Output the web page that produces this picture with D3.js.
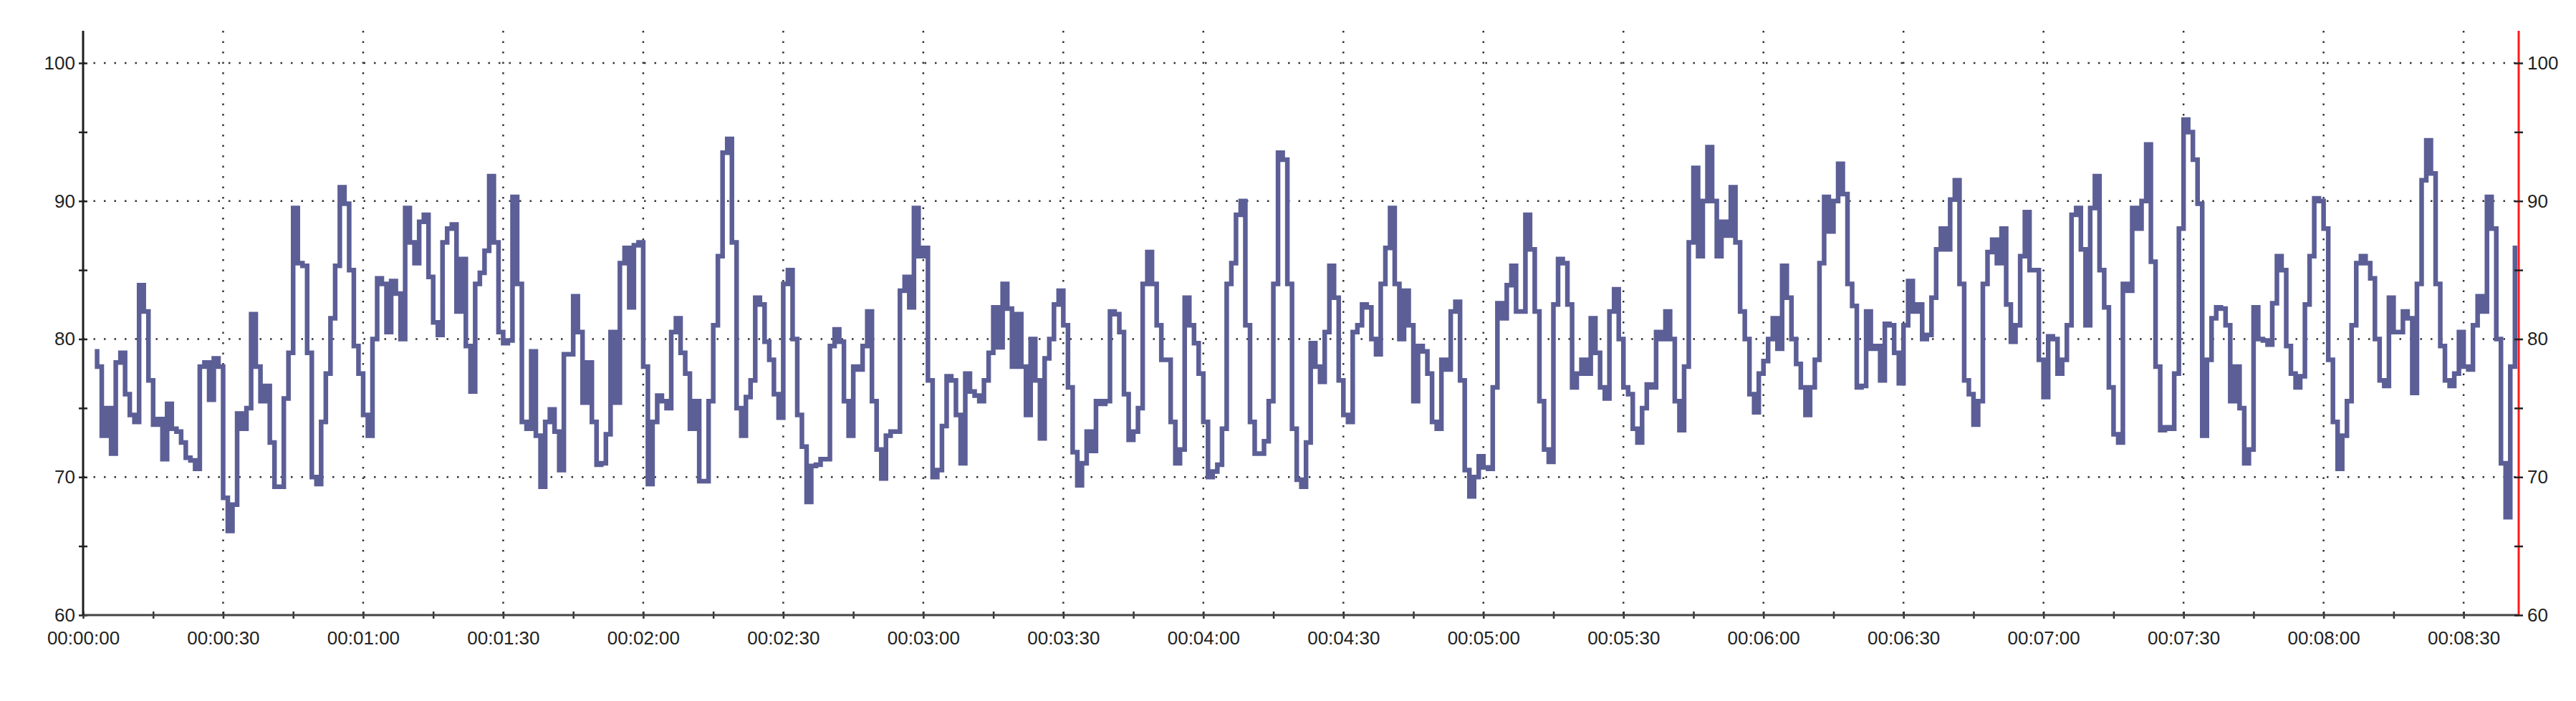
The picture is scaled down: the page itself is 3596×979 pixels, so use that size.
<!DOCTYPE html>
<html lang="en">

<head>
    <meta charset="utf-8">
    <script src="https://d3js.org/d3.v7.min.js"></script>
    <style>
        body { margin: 0; background: #fff; }
        svg { display: block; }
        .tick text { font-family: "Liberation Sans", Arial, sans-serif; font-size: 26px; fill: #222; }
    </style>
</head>

<body>
    <script>
        // one sample per second, first sample at 2 s
        const startSec = 2;
        const sampleStep = 1;
        const samples = [
            79.1, 78, 73, 75, 71.7, 78.3, 79, 76, 74.5, 74,
            83.9, 82, 77, 73.8, 74.2, 71.3, 75.3, 73.5, 73.3, 72.5,
            71.4, 71.2, 70.6, 78, 78.3, 75.6, 78.6, 78, 68.5, 66.1,
            68, 74.6, 73.5, 75, 81.8, 78, 75.5, 76.6, 72.5, 69.3,
            69.3, 75.7, 79, 89.5, 85.5, 85.3, 79, 70, 69.5, 74,
            77.5, 81.5, 85.3, 91, 89.8, 85, 79.5, 77.5, 74.5, 73,
            80, 84.4, 84, 80.5, 84.2, 83.3, 80, 89.5, 87, 85.5,
            88.5, 89, 84.5, 81.2, 80.3, 87, 88, 88.3, 82, 85.8,
            79.5, 76.2, 84, 84.8, 86.4, 91.8, 87, 80.5, 79.7, 79.9,
            90.3, 84, 74, 73.5, 79.1, 73, 69.3, 74, 74.9, 73.3,
            70.5, 78.9, 78.9, 83.1, 80.5, 75.4, 78.3, 74, 70.9, 71,
            73.1, 80.5, 75.4, 85.5, 86.6, 82.3, 86.8, 87, 78, 69.5,
            74, 75.9, 75.5, 75, 80.5, 81.5, 79, 77.5, 73.5, 75.5,
            69.7, 69.7, 75.5, 81, 86, 93.5, 94.5, 87, 75, 73,
            75.8, 77, 83, 82.5, 79.8, 78.5, 76, 74.3, 84, 85,
            80, 74.5, 72.2, 68.2, 70.8, 70.9, 71.3, 71.3, 79.5, 80.7,
            79.8, 75.5, 73, 78, 77.8, 79.5, 82, 75.5, 72, 69.9,
            73, 73.3, 73.3, 83.5, 84.5, 82.3, 89.5, 86, 86.6, 77,
            70, 70.5, 73.7, 77.3, 77, 74.5, 71, 77.5, 76.2, 75.9,
            75.5, 77, 79, 82.3, 79.4, 84, 82.2, 78, 81.8, 78,
            74.5, 80, 77, 72.8, 78.6, 80, 82.5, 83.5, 81, 76.5,
            71.8, 69.4, 71, 73.3, 71.9, 75.5, 75.3, 75.5, 82, 81.8,
            80.5, 76, 72.7, 73.3, 75, 84, 86.3, 84, 81, 78.5,
            78.5, 74, 71, 72, 83, 81, 79.7, 77.5, 74, 70,
            70.4, 70.9, 73.5, 84, 85.5, 89, 90, 81, 74, 71.7,
            71.7, 72.6, 75.5, 84, 93.5, 93, 84, 73.5, 69.8, 69.3,
            72.5, 79.7, 78, 76.9, 80.5, 85.3, 83, 77, 74.5, 74,
            80.5, 81, 82.5, 82.3, 80, 78.9, 84, 86.6, 89.5, 84,
            80, 83.5, 81, 75.5, 79.5, 79.1, 77.5, 74, 73.5, 78.5,
            77.8, 82, 82.7, 77, 70.5, 68.6, 70, 71.5, 70.7, 70.6,
            76.5, 82.6, 81.5, 83.9, 85.3, 82, 82, 89, 86.5, 82,
            75.5, 72, 71.1, 82.5, 85.8, 85.5, 82.5, 76.5, 77.5, 78.5,
            77.5, 81.5, 79, 76.5, 75.7, 82, 83.6, 80, 76.5, 76,
            73.5, 72.5, 75, 76.7, 76.5, 80.5, 80, 82, 80, 75.5,
            73.4, 78, 87, 92.4, 86, 90, 93.9, 90, 86, 88.5,
            87.5, 91, 87, 82, 80, 76, 74.7, 77.5, 78.4, 80,
            81.5, 79.3, 85.3, 83, 80, 78.2, 76.5, 74.5, 76.5, 78.5,
            85.5, 90.3, 87.8, 90, 92.7, 90.5, 84, 82.4, 76.5, 76.6,
            82, 79.3, 79.5, 77, 81.1, 81, 79, 76.8, 81, 84.2,
            82, 82.5, 80, 80.3, 83, 86.5, 88, 86.5, 90.1, 91.5,
            84, 77, 76, 73.8, 75.5, 84, 86.3, 87.2, 85.5, 88,
            82.5, 79.8, 81, 86, 89.2, 85, 85, 78.5, 75.8, 80.2,
            80, 77.5, 78.5, 81, 89, 89.5, 86.5, 81, 89.5, 91.8,
            85, 82.3, 76.5, 73.1, 72.5, 84, 83.5, 89.5, 88, 90,
            94.1, 85.6, 78, 73.4, 73.6, 73.5, 77.5, 88, 95.9, 95,
            93, 89.8, 73, 78.5, 81.5, 82.3, 82.2, 81, 75.5, 78,
            75, 71, 72, 82.3, 80, 79.9, 79.6, 82.6, 86, 85,
            79.5, 77.5, 76.5, 77.3, 82.5, 86, 90.2, 90, 88, 78.5,
            74, 70.6, 73, 75.5, 81, 85.5, 86, 85.5, 84.4, 80,
            77, 76.6, 83, 80.5, 80.5, 82, 81.5, 76.1, 84, 91.5,
            94.4, 92, 84, 79.5, 77, 76.6, 77.5, 80.5, 78, 77.8,
            81, 83.1, 82, 90.3, 88, 80, 71, 67.1, 78, 86.6
        ];

        const timeDomain = [0, 521.8];       // seconds, right edge is the red cursor
        const valueDomain = [60, 100];
        const valueTicks = [60, 65, 70, 75, 80, 85, 90, 95, 100];
        const valueLabels = [60, 70, 80, 90, 100];
        const timeTicks = d3.range(0, 511, 15);
        const timeLabels = d3.range(0, 511, 30);

        const W = 3596, H = 979;
        const plotLeft = 116, plotRight = 3516, plotTop = 43, plotBottom = 859, y100 = 88;

        const pad = n => String(n).padStart(2, '0');
        const hms = s => pad(Math.floor(s / 3600)) + ':' + pad(Math.floor(s / 60) % 60) + ':' + pad(s % 60);

        const x = d3.scaleLinear().domain(timeDomain).range([plotLeft, plotRight]);
        const y = d3.scaleLinear().domain(valueDomain).range([plotBottom, y100]);

        const svg = d3.select('body').append('svg')
            .attr('width', W)
            .attr('height', H);

        // dotted grid
        const grid = svg.append('g')
            .attr('stroke', '#333')
            .attr('stroke-width', 2.5)
            .attr('stroke-dasharray', '2.5,12');

        grid.selectAll('line.h')
            .data(valueLabels.slice(1))
            .enter().append('line')
            .attr('class', 'h')
            .attr('x1', plotLeft).attr('x2', plotRight)
            .attr('y1', d => y(d)).attr('y2', d => y(d));

        grid.selectAll('line.v')
            .data(timeLabels.slice(1))
            .enter().append('line')
            .attr('class', 'v')
            .attr('x1', d => x(d)).attr('x2', d => x(d))
            .attr('y1', plotTop).attr('y2', plotBottom);

        // the trace, drawn as steps
        const line = d3.line()
            .x((d, i) => x(startSec + i * sampleStep + sampleStep / 2))
            .y(d => y(d))
            .curve(d3.curveStep);

        svg.append('path')
            .datum(samples)
            .attr('fill', 'none')
            .attr('stroke', '#5c5e96')
            .attr('stroke-width', 6.5)
            .attr('stroke-linejoin', 'miter')
            .attr('d', line);

        // axes, ticks cross the axis line
        const fmtValue = d => valueLabels.includes(d) ? d : '';
        const fmtTime = d => timeLabels.includes(d) ? hms(d) : '';

        const yLeft = svg.append('g')
            .attr('transform', 'translate(' + plotLeft + ',0)')
            .call(d3.axisLeft(y).tickValues(valueTicks).tickFormat(fmtValue)
                .tickSizeInner(6).tickSizeOuter(0).tickPadding(5));

        const yRight = svg.append('g')
            .attr('transform', 'translate(' + plotRight + ',0)')
            .call(d3.axisRight(y).tickValues(valueTicks).tickFormat(fmtValue)
                .tickSizeInner(6).tickSizeOuter(0).tickPadding(6));

        const xAxis = svg.append('g')
            .attr('transform', 'translate(0,' + plotBottom + ')')
            .call(d3.axisBottom(x).tickValues(timeTicks).tickFormat(fmtTime)
                .tickSizeInner(5).tickSizeOuter(0).tickPadding(18));

        [yLeft, yRight, xAxis].forEach(g => g.select('.domain').remove());
        [yLeft, yRight].forEach(g => g.selectAll('.tick line')
            .attr('x1', -6).attr('x2', 6).attr('stroke', '#222').attr('stroke-width', 2.5));
        xAxis.selectAll('.tick line')
            .attr('y1', -5).attr('y2', 5).attr('stroke', '#333').attr('stroke-width', 2.5);

        // axis lines
        svg.append('line')
            .attr('x1', plotLeft).attr('x2', plotRight)
            .attr('y1', plotBottom).attr('y2', plotBottom)
            .attr('stroke', '#444').attr('stroke-width', 3);

        svg.append('line')
            .attr('x1', plotLeft).attr('x2', plotLeft)
            .attr('y1', plotTop).attr('y2', plotBottom)
            .attr('stroke', '#1e1e1e').attr('stroke-width', 3);

        svg.append('line')
            .attr('x1', plotRight).attr('x2', plotRight)
            .attr('y1', plotTop).attr('y2', plotBottom)
            .attr('stroke', '#ff1a1a').attr('stroke-width', 3);

        yRight.raise();
    </script>

</body>

</html>
